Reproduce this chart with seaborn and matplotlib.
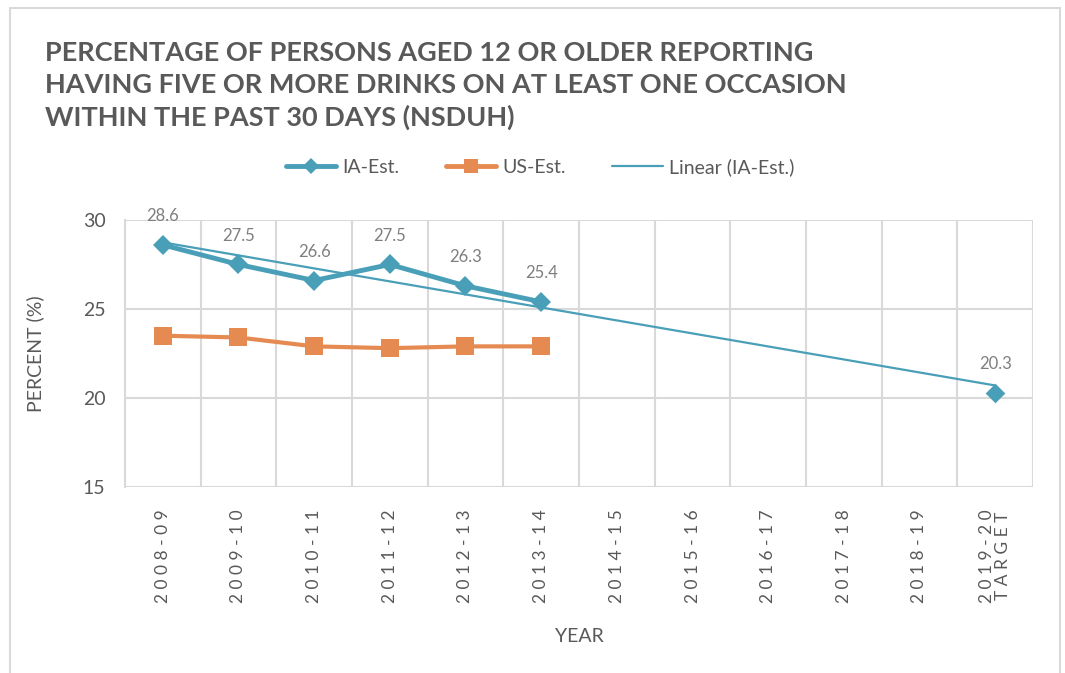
import numpy as np
import pandas as pd
import matplotlib
matplotlib.use("Agg")
import matplotlib.pyplot as plt
from matplotlib.lines import Line2D
import seaborn as sns

# chart values
years = ["2008-09", "2009-10", "2010-11", "2011-12", "2012-13", "2013-14",
         "2014-15", "2015-16", "2016-17", "2017-18", "2018-19", "2019-20\nTARGET"]
ia_est = [28.6, 27.5, 26.6, 27.5, 26.3, 25.4]
us_est = [23.5, 23.4, 22.9, 22.8, 22.9, 22.9]
ia_target = 20.3

title = ("PERCENTAGE OF PERSONS AGED 12 OR OLDER REPORTING\n"
         "HAVING FIVE OR MORE DRINKS ON AT LEAST ONE OCCASION\n"
         "WITHIN THE PAST 30 DAYS (NSDUH)")

IA_COLOR = "#4A9FB8"
US_COLOR = "#E58B52"
GRID = "#D9D9D9"
TXT = "#595959"

sns.set_theme(style="white")
plt.rcParams["font.family"] = ["Lato", "DejaVu Sans"]

ia_df = pd.DataFrame({"x": range(len(ia_est)), "y": ia_est})
us_df = pd.DataFrame({"x": range(len(us_est)), "y": us_est})
target_x = len(years) - 1
# trend fitted on all IA points incl. target, like Excel
trend_df = pd.DataFrame({"x": list(range(len(ia_est))) + [target_x],
                         "y": ia_est + [ia_target]})

fig = plt.figure(figsize=(10.65, 6.73), dpi=100)
ax = fig.add_axes([125 / 1065, 1 - 487 / 673, 908 / 1065, 267 / 673])

sns.regplot(data=trend_df, x="x", y="y", ax=ax, ci=None, scatter=False,
            line_kws={"color": IA_COLOR, "lw": 1.6, "zorder": 3})
sns.lineplot(data=us_df, x="x", y="y", ax=ax, color=US_COLOR, lw=3,
             marker="s", markersize=13, markeredgewidth=0, zorder=4)
sns.lineplot(data=ia_df, x="x", y="y", ax=ax, color=IA_COLOR, lw=3.5,
             marker="D", markersize=10, markeredgewidth=0, zorder=5)
sns.scatterplot(x=[target_x], y=[ia_target], ax=ax, color=IA_COLOR,
                marker="D", s=100, linewidth=0, zorder=5)

for i, v in enumerate(ia_est + [ia_target]):
    xi = i if i < len(ia_est) else target_x
    ax.annotate(f"{v}", (xi, v), xytext=(0, 15), textcoords="offset points",
                ha="center", va="bottom", fontsize=12, color="#7F7F7F")


def spaced(lbl):
    return "\n".join(" ".join(part) for part in lbl.split("\n"))


ax.set_xlim(-0.5, len(years) - 0.5)
ax.set_ylim(15, 30)
ax.set_yticks([15, 20, 25, 30])
ax.set_xticks(range(len(years)))
ax.set_xticklabels([spaced(l) for l in years], rotation=90, fontsize=12.5,
                   color=TXT, va="top", linespacing=0.95)
ax.set_xticks(np.arange(-0.5, len(years), 1), minor=True)
ax.tick_params(axis="y", labelsize=14, colors=TXT, length=0, pad=14)
ax.tick_params(axis="x", which="both", length=0, pad=16)
ax.grid(False)
ax.grid(axis="x", which="minor", color=GRID, lw=1.5)
ax.grid(axis="y", which="major", color=GRID, lw=1.5)
ax.set_axisbelow(True)
for s in ax.spines.values():
    s.set_visible(False)
ax.spines["left"].set_visible(True)
ax.spines["left"].set_color(GRID)
ax.spines["left"].set_linewidth(1.5)

ax.set_xlabel("YEAR", fontsize=14, color=TXT, labelpad=18)
ax.set_ylabel("PERCENT (%)", fontsize=14, color=TXT, labelpad=28)

fig.text(45 / 1065, 1 - 41 / 673, title, ha="left", va="top", fontsize=19.5,
         fontweight="bold", color=TXT, linespacing=1.38)

handles = [
    Line2D([], [], color=IA_COLOR, lw=3.5, marker="D", markersize=8, markeredgewidth=0),
    Line2D([], [], color=US_COLOR, lw=3.5, marker="s", markersize=10, markeredgewidth=0),
    Line2D([], [], color=IA_COLOR, lw=1.6),
]
fig.legend(handles, ["IA-Est.", "US-Est.", "Linear (IA-Est.)"], loc="center",
           bbox_to_anchor=(540 / 1065, 1 - 167 / 673), ncol=3, frameon=False,
           fontsize=14, labelcolor=TXT, handlelength=2.6, columnspacing=2.4,
           handletextpad=0.3)

fig.add_artist(plt.Rectangle((10 / 1065, -0.01), 1050 / 1065, 1 - 8 / 673 + 0.01,
                             transform=fig.transFigure, fill=False,
                             edgecolor=GRID, lw=1.5))

fig.savefig("out.png", dpi=100)
